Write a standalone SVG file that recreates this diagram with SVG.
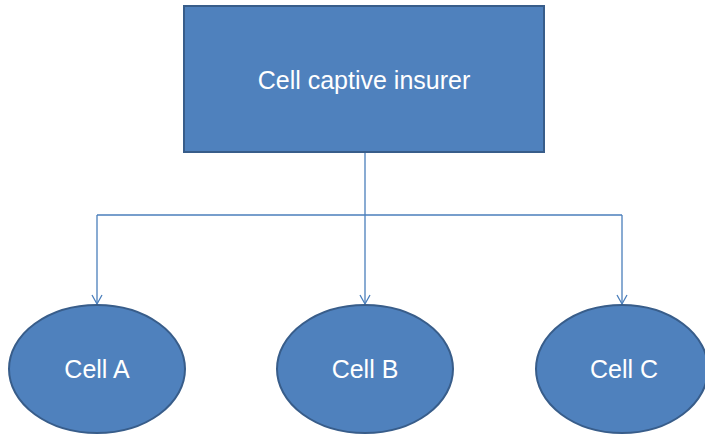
<svg xmlns="http://www.w3.org/2000/svg" width="705" height="436" viewBox="0 0 705 436">
<style>
.node{fill:#4F81BD;stroke:#385D8A;stroke-width:2}
.lbl{font-family:"Liberation Sans",Arial,sans-serif;font-size:25px;fill:#FFFFFF;text-anchor:middle}
.conn{fill:none;stroke:#4A7EBB;stroke-width:1.3}
</style>
<defs>
<marker id="arr" markerWidth="12" markerHeight="12" refX="10" refY="6" orient="auto" markerUnits="userSpaceOnUse">
<path d="M1,1 L10,6 L1,11" fill="none" stroke="#4A7EBB" stroke-width="1.3"/>
</marker>
</defs>
<rect width="705" height="436" fill="#FFFFFF"/>
<g id="connectors">
<path class="conn" d="M365,152 V304" marker-end="url(#arr)"/>
<path class="conn" d="M97,215 H622"/>
<path class="conn" d="M97,215 V304" marker-end="url(#arr)"/>
<path class="conn" d="M622,215 V304" marker-end="url(#arr)"/>
</g>
<g id="insurer">
<rect class="node" x="184" y="6" width="360" height="146"/>
<text class="lbl" x="364" y="89">Cell captive insurer</text>
</g>
<g id="cellA">
<ellipse class="node" cx="97" cy="369" rx="88" ry="64"/>
<text class="lbl" x="97" y="378">Cell A</text>
</g>
<g id="cellB">
<ellipse class="node" cx="365" cy="369" rx="88" ry="64"/>
<text class="lbl" x="365" y="378">Cell B</text>
</g>
<g id="cellC">
<ellipse class="node" cx="622" cy="369" rx="86" ry="64"/>
<text class="lbl" x="624" y="378">Cell C</text>
</g>
</svg>
